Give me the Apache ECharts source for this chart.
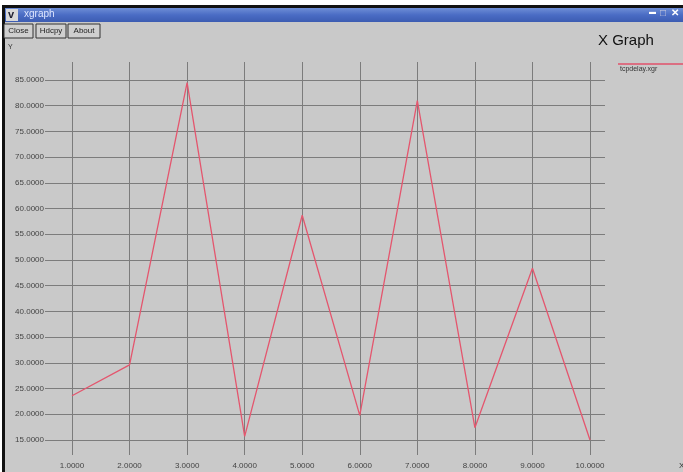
<!DOCTYPE html>
<html><head><meta charset="utf-8">
<script src="https://cdn.jsdelivr.net/npm/echarts@6/dist/echarts.min.js"></script>
<style>html,body{margin:0;padding:0;background:#fff}#c{width:683px;height:472px}</style>
</head><body><div id="c"></div>
<script>
const xValues = [1, 2, 3, 4, 5, 6, 7, 8, 9, 10];
const delayValues = [23.6, 29.6, 84.5, 15.7, 58.7, 19.8, 81.0, 17.4, 48.4, 15.0];
const seriesName = 'tcpdelay.xgr';
const windowTitle = 'xgraph';
const chartTitle = 'X Graph';
const buttonLabels = ['Close', 'Hdcpy', 'About'];

const gridColor = '#7c7c7c';
const font = 'Liberation Sans, Arial, sans-serif';
const chart = echarts.init(document.getElementById('c'));

const btnX = [4, 36, 68], btnW = [29, 30, 32];
const chrome = [
  {type:'rect', shape:{x:0,y:0,width:683,height:5}, style:{fill:'#fff'}},
  {type:'rect', shape:{x:0,y:0,width:2,height:472}, style:{fill:'#fff'}},
  {type:'rect', shape:{x:2,y:5,width:681,height:3}, style:{fill:'#111'}},
  {type:'rect', shape:{x:2,y:5,width:3,height:467}, style:{fill:'#111'}},
  {type:'rect', shape:{x:5,y:8,width:678,height:14},
    style:{fill:new echarts.graphic.LinearGradient(0,0,0,1,[{offset:0,color:'#6e8ed6'},{offset:0.5,color:'#4a6cc4'},{offset:1,color:'#3c5cb2'}])}},
  {type:'rect', shape:{x:6,y:9,width:12,height:12}, style:{fill:'#d8d8d8'}},
  {type:'text', x:8, y:9, style:{text:'v', font:'bold 11px '+font, fill:'#223'}},
  {type:'text', x:24, y:9, style:{text:windowTitle, font:'10px '+font, fill:'#dfe6ff'}},
  {type:'text', x:649, y:9, style:{text:'▬', font:'7px '+font, fill:'#fff'}},
  {type:'text', x:660, y:8, style:{text:'□', font:'10px '+font, fill:'#ccd'}},
  {type:'text', x:671, y:8, style:{text:'✕', font:'bold 10px '+font, fill:'#fff'}},
  {type:'text', x:8, y:44, style:{text:'Y', font:'7px '+font, fill:'#333'}},
  {type:'text', x:679, y:462, style:{text:'X', font:'8px '+font, fill:'#333'}},
  {type:'text', x:598, y:33, style:{text:chartTitle, font:'15px '+font, fill:'#111'}},
  {type:'line', shape:{x1:618,y1:64,x2:683,y2:64}, style:{stroke:'#e0506a', lineWidth:1.5}},
  {type:'text', x:620, y:66, style:{text:seriesName, font:'7px '+font, fill:'#333'}}
];
buttonLabels.forEach((t, i) => {
  chrome.push({type:'rect', shape:{x:btnX[i], y:24, width:btnW[i], height:14},
    style:{fill:'#cfcfcf', stroke:'#333', lineWidth:1}});
  chrome.push({type:'text', x:btnX[i] + btnW[i]/2, y:27,
    style:{text:t, font:'8px '+font, fill:'#222', align:'center'}});
});
chrome.forEach(e => { e.z = 100; });

const lineStyle = {color: gridColor, width: 1};
chart.setOption({
  backgroundColor: '#c9c9c9',
  animation: false,
  grid: {left: 72, right: 93, top: 80, bottom: 32},
  xAxis: [
    {type:'value', min:1, max:10, interval:1, position:'bottom',
     axisLine:{show:false}, axisTick:{show:true, length:15, lineStyle},
     splitLine:{show:true, lineStyle},
     axisLabel:{margin:22, fontSize:8, color:'#444', fontFamily:font,
       formatter: v => v.toFixed(4)}},
    {type:'value', min:1, max:10, interval:1, position:'top',
     axisLine:{show:false}, axisTick:{show:true, length:18, lineStyle},
     splitLine:{show:false}, axisLabel:{show:false}}
  ],
  yAxis: [
    {type:'value', min:15, max:85, interval:5, position:'left',
     axisLine:{show:false}, axisTick:{show:true, length:27, lineStyle},
     splitLine:{show:true, lineStyle},
     axisLabel:{margin:28, fontSize:8, color:'#444', fontFamily:font,
       formatter: v => v.toFixed(4)}},
    {type:'value', min:15, max:85, interval:5, position:'right',
     axisLine:{show:false}, axisTick:{show:true, length:15, lineStyle},
     splitLine:{show:false}, axisLabel:{show:false}}
  ],
  series: [{
    name: seriesName, type: 'line', xAxisIndex: 0, yAxisIndex: 0,
    data: xValues.map((x, i) => [x, delayValues[i]]),
    showSymbol: false, symbol: 'none',
    lineStyle: {color: '#e4566e', width: 1.3}, z: 5
  }],
  graphic: chrome
});
</script></body></html>
